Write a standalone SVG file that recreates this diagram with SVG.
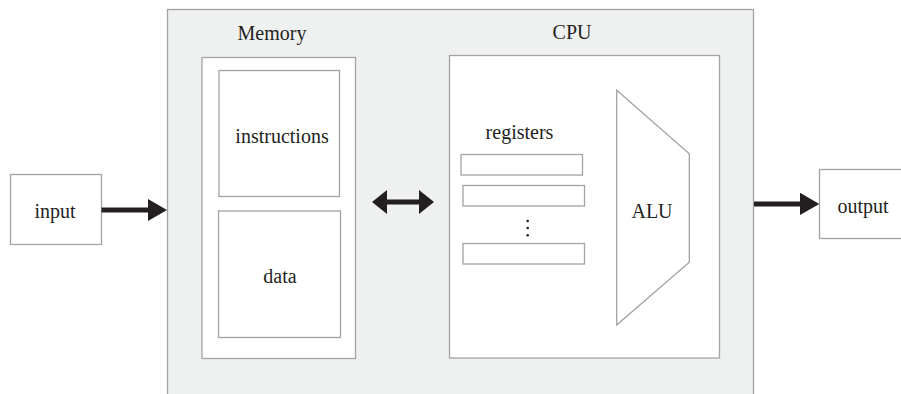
<svg xmlns="http://www.w3.org/2000/svg" width="901" height="394" viewBox="0 0 901 394">
<defs>
<style>
.box{fill:#ffffff;stroke:#a3a3a3;stroke-width:1.3}
.outer{fill:#eff0f0;stroke:#a3a3a3;stroke-width:1.3}
.lbl{font-family:"Liberation Serif","Times New Roman",serif;font-size:20px;fill:#231f20;text-anchor:middle}
.shaft{stroke:#231f20;stroke-width:5;fill:none}
.head{fill:#231f20}
</style>
</defs>
<rect width="901" height="394" fill="#ffffff"/>
<g id="computer">
<rect class="outer" x="167.5" y="9.5" width="586" height="400"/>
</g>
<g id="memory">
<text class="lbl" x="272" y="40">Memory</text>
<rect class="box" x="202" y="57.5" width="153.5" height="301"/>
</g>
<g id="instructions">
<rect class="box" x="219" y="70.5" width="120.5" height="126"/>
<text class="lbl" x="282" y="142.5">instructions</text>
</g>
<g id="data">
<rect class="box" x="218.5" y="211" width="122" height="126.5"/>
<text class="lbl" x="280" y="283">data</text>
</g>
<g id="cpu">
<text class="lbl" x="572" y="39">CPU</text>
<rect class="box" x="449.5" y="55.5" width="270" height="302.5"/>
</g>
<g id="registers">
<text class="lbl" x="519.5" y="139">registers</text>
<rect class="box" x="461" y="154.5" width="121.5" height="20.5"/>
<rect class="box" x="463" y="185.5" width="121.5" height="20.5"/>
<rect class="box" x="463" y="243.5" width="121.5" height="20.5"/>
<circle cx="527.7" cy="221" r="1.3" fill="#231f20"/>
<circle cx="527.7" cy="228" r="1.3" fill="#231f20"/>
<circle cx="527.7" cy="235.3" r="1.3" fill="#231f20"/>
</g>
<g id="alu">
<polygon class="box" points="616.7,90.3 689.3,153.7 689.3,262.3 616.7,325"/>
<text class="lbl" x="652" y="218">ALU</text>
</g>
<g id="input">
<rect class="box" x="10.5" y="174.5" width="91" height="70"/>
<text class="lbl" x="55" y="218">input</text>
</g>
<g id="output">
<rect class="box" x="819.5" y="169.5" width="90" height="69"/>
<text class="lbl" x="863" y="212.5">output</text>
</g>
<g id="connectors">
<line class="shaft" x1="101.5" y1="210" x2="150" y2="210"/>
<polygon class="head" points="148,199 167,210 148,221"/>
<line class="shaft" x1="385" y1="202" x2="421" y2="202"/>
<polygon class="head" points="372,202 387,190 387,214"/>
<polygon class="head" points="434,202 419,190 419,214"/>
<line class="shaft" x1="754" y1="204" x2="802" y2="204"/>
<polygon class="head" points="800,192.7 819.3,204 800,215"/>
</g>
</svg>
